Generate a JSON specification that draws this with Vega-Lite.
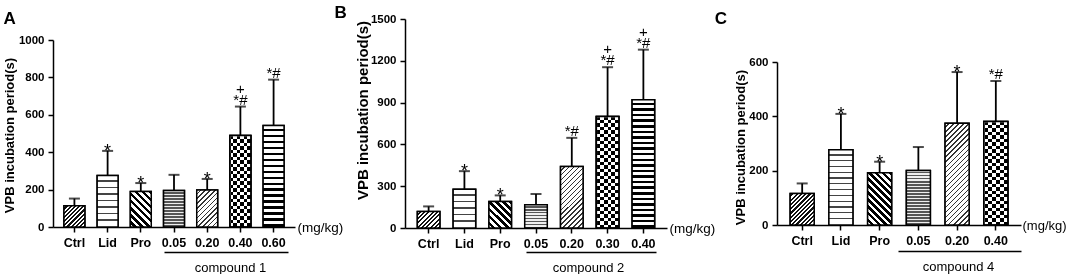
{
  "$schema": "https://vega.github.io/schema/vega-lite/v6.json",
  "padding": {"left": 3, "top": 4, "right": 0, "bottom": 0},
  "bounds": "flush",
  "spacing": 110,
  "config": {
    "view": {"stroke": null},
    "font": "Liberation Sans",
    "axis": {"grid": false, "labelFont": "Liberation Sans", "titleFont": "Liberation Sans", "labelColor": "black", "titleColor": "black", "domainColor": "black", "tickColor": "black", "domainWidth": 1.5, "tickWidth": 1.5},
    "title": {"font": "Liberation Sans", "fontSize": 17, "fontWeight": "bold", "color": "black", "anchor": "start", "frame": "bounds"},
    "text": {"font": "Liberation Sans", "fill": "black"}
  },
  "datasets": {
    "A": [
      {"group": "Ctrl", "dose": "Ctrl", "mean": 113, "upper": 152, "sig": "", "plus": ""},
      {"group": "Lid", "dose": "Lid", "mean": 276, "upper": 407, "sig": "*", "plus": ""},
      {"group": "Pro", "dose": "Pro", "mean": 190, "upper": 235, "sig": "*", "plus": ""},
      {"group": "0.05", "dose": "D1", "mean": 195, "upper": 279, "sig": "", "plus": ""},
      {"group": "0.20", "dose": "D2", "mean": 198, "upper": 257, "sig": "*", "plus": ""},
      {"group": "0.40", "dose": "D3", "mean": 489, "upper": 644, "sig": "*#", "plus": "+"},
      {"group": "0.60", "dose": "D4", "mean": 543, "upper": 788, "sig": "*#", "plus": ""}
    ],
    "B": [
      {"group": "Ctrl", "dose": "Ctrl", "mean": 118, "upper": 155, "sig": "", "plus": ""},
      {"group": "Lid", "dose": "Lid", "mean": 278, "upper": 408, "sig": "*", "plus": ""},
      {"group": "Pro", "dose": "Pro", "mean": 191, "upper": 234, "sig": "*", "plus": ""},
      {"group": "0.05", "dose": "D1", "mean": 167, "upper": 244, "sig": "", "plus": ""},
      {"group": "0.20", "dose": "D2", "mean": 441, "upper": 647, "sig": "*#", "plus": ""},
      {"group": "0.30", "dose": "D3", "mean": 800, "upper": 1154, "sig": "*#", "plus": "+"},
      {"group": "0.40", "dose": "D4", "mean": 921, "upper": 1280, "sig": "*#", "plus": "+"}
    ],
    "C": [
      {"group": "Ctrl", "dose": "Ctrl", "mean": 116, "upper": 153, "sig": "", "plus": ""},
      {"group": "Lid", "dose": "Lid", "mean": 277, "upper": 409, "sig": "*", "plus": ""},
      {"group": "Pro", "dose": "Pro", "mean": 192, "upper": 233, "sig": "*", "plus": ""},
      {"group": "0.05", "dose": "D1", "mean": 201, "upper": 287, "sig": "", "plus": ""},
      {"group": "0.20", "dose": "D2", "mean": 375, "upper": 563, "sig": "*", "plus": ""},
      {"group": "0.40", "dose": "D3", "mean": 381, "upper": 530, "sig": "*#", "plus": ""}
    ]
  },
  "hconcat": [
    {
      "width": 242, "height": 209,
      "data": {"name": "A"},
      "title": {"text": "A", "offset": -9},
      "resolve": {"axis": {"x": "independent"}},
      "layer": [
        {
          "mark": {"type": "bar", "stroke": "black", "strokeWidth": 1.5},
          "encoding": {
            "x": {"field": "group", "type": "nominal", "sort": null,
              "scale": {"domain": ["Ctrl", "Lid", "Pro", "0.05", "0.20", "0.40", "0.60"], "paddingInner": 0.37, "paddingOuter": 0.33},
              "axis": {"orient": "bottom", "offset": -1, "title": "(mg/kg)", "titleX": 244, "titleY": 0, "titleAlign": "left", "titleAnchor": "start", "titleBaseline": "middle", "titleFontWeight": "normal", "titleFontSize": 13.5, "labelAngle": 0, "labelFontWeight": "bold", "labelFontSize": 12.5, "tickSize": 5, "labelPadding": 4}},
            "y": {"field": "mean", "type": "quantitative",
              "scale": {"domain": [0, 1000], "range": [208, 21], "nice": false, "zero": true},
              "axis": {"values": [0, 200, 400, 600, 800, 1000], "format": "d", "title": "VPB incubation period(s)", "titleY": 116, "titleFontSize": 13, "titleFontWeight": "bold", "titlePadding": 2, "labelFontSize": 11.5, "labelFontWeight": "bold", "tickSize": 5, "labelPadding": 4}},
            "fill": {"field": "dose", "type": "nominal", "legend": null,
              "scale": {"domain": ["Ctrl", "Lid", "Pro", "D1", "D2", "D3", "D4"], "range": ["#858585", "#e0e0e0", "#7a7a7a", "#a3a3a3", "#b8b8b8", "#4d4d4d", "#8c8c8c"]}}
          }
        },
        {
          "transform": [{"filter": "datum.dose == 'Ctrl'"}],
          "mark": {"type": "bar", "stroke": "black", "strokeWidth": 1.5,
            "fill": {"gradient": "linear", "x1": 0, "y1": 0, "x2": 0.995, "y2": 1.004, "stops": [
              {"offset": 0, "color": "#fff"}, {"offset": 0.05, "color": "#fff"}, {"offset": 0.05, "color": "#111"}, {"offset": 0.1, "color": "#111"},
              {"offset": 0.1, "color": "#fff"}, {"offset": 0.15, "color": "#fff"}, {"offset": 0.15, "color": "#111"}, {"offset": 0.2, "color": "#111"},
              {"offset": 0.2, "color": "#fff"}, {"offset": 0.25, "color": "#fff"}, {"offset": 0.25, "color": "#111"}, {"offset": 0.3, "color": "#111"},
              {"offset": 0.3, "color": "#fff"}, {"offset": 0.35, "color": "#fff"}, {"offset": 0.35, "color": "#111"}, {"offset": 0.4, "color": "#111"},
              {"offset": 0.4, "color": "#fff"}, {"offset": 0.45, "color": "#fff"}, {"offset": 0.45, "color": "#111"}, {"offset": 0.5, "color": "#111"},
              {"offset": 0.5, "color": "#fff"}, {"offset": 0.55, "color": "#fff"}, {"offset": 0.55, "color": "#111"}, {"offset": 0.6, "color": "#111"},
              {"offset": 0.6, "color": "#fff"}, {"offset": 0.65, "color": "#fff"}, {"offset": 0.65, "color": "#111"}, {"offset": 0.7, "color": "#111"},
              {"offset": 0.7, "color": "#fff"}, {"offset": 0.75, "color": "#fff"}, {"offset": 0.75, "color": "#111"}, {"offset": 0.8, "color": "#111"},
              {"offset": 0.8, "color": "#fff"}, {"offset": 0.85, "color": "#fff"}, {"offset": 0.85, "color": "#111"}, {"offset": 0.9, "color": "#111"},
              {"offset": 0.9, "color": "#fff"}, {"offset": 0.95, "color": "#fff"}, {"offset": 0.95, "color": "#111"}, {"offset": 1, "color": "#111"}]}},
          "encoding": {
            "x": {"field": "group", "type": "nominal", "sort": null, "axis": null},
            "y": {"field": "mean", "type": "quantitative"}
          }
        },
        {
          "transform": [{"filter": "datum.dose == 'Lid'"}],
          "mark": {"type": "bar", "stroke": "black", "strokeWidth": 1.5,
            "fill": {"gradient": "linear", "x1": 0, "y1": 0, "x2": 0, "y2": 1, "stops": [
              {"offset": 0, "color": "white"}, {"offset": 0.0975, "color": "white"}, {"offset": 0.0975, "color": "#444"}, {"offset": 0.125, "color": "#444"},
              {"offset": 0.125, "color": "white"}, {"offset": 0.2225, "color": "white"}, {"offset": 0.2225, "color": "#444"}, {"offset": 0.25, "color": "#444"},
              {"offset": 0.25, "color": "white"}, {"offset": 0.3475, "color": "white"}, {"offset": 0.3475, "color": "#444"}, {"offset": 0.375, "color": "#444"},
              {"offset": 0.375, "color": "white"}, {"offset": 0.4725, "color": "white"}, {"offset": 0.4725, "color": "#444"}, {"offset": 0.5, "color": "#444"},
              {"offset": 0.5, "color": "white"}, {"offset": 0.5975, "color": "white"}, {"offset": 0.5975, "color": "#444"}, {"offset": 0.625, "color": "#444"},
              {"offset": 0.625, "color": "white"}, {"offset": 0.7225, "color": "white"}, {"offset": 0.7225, "color": "#444"}, {"offset": 0.75, "color": "#444"},
              {"offset": 0.75, "color": "white"}, {"offset": 0.8475, "color": "white"}, {"offset": 0.8475, "color": "#444"}, {"offset": 0.875, "color": "#444"},
              {"offset": 0.875, "color": "white"}, {"offset": 1, "color": "white"}]}},
          "encoding": {
            "x": {"field": "group", "type": "nominal", "sort": null, "axis": null},
            "y": {"field": "mean", "type": "quantitative"}
          }
        },
        {
          "transform": [{"filter": "datum.dose == 'Pro'"}],
          "mark": {"type": "bar", "stroke": "black", "strokeWidth": 1.5,
            "fill": {"gradient": "linear", "x1": 0, "y1": 1, "x2": 0.695, "y2": -0.18, "stops": [
              {"offset": 0, "color": "white"}, {"offset": 0.0625, "color": "white"}, {"offset": 0.0625, "color": "black"}, {"offset": 0.125, "color": "black"},
              {"offset": 0.125, "color": "white"}, {"offset": 0.1875, "color": "white"}, {"offset": 0.1875, "color": "black"}, {"offset": 0.25, "color": "black"},
              {"offset": 0.25, "color": "white"}, {"offset": 0.3125, "color": "white"}, {"offset": 0.3125, "color": "black"}, {"offset": 0.375, "color": "black"},
              {"offset": 0.375, "color": "white"}, {"offset": 0.4375, "color": "white"}, {"offset": 0.4375, "color": "black"}, {"offset": 0.5, "color": "black"},
              {"offset": 0.5, "color": "white"}, {"offset": 0.5625, "color": "white"}, {"offset": 0.5625, "color": "black"}, {"offset": 0.625, "color": "black"},
              {"offset": 0.625, "color": "white"}, {"offset": 0.6875, "color": "white"}, {"offset": 0.6875, "color": "black"}, {"offset": 0.75, "color": "black"},
              {"offset": 0.75, "color": "white"}, {"offset": 0.8125, "color": "white"}, {"offset": 0.8125, "color": "black"}, {"offset": 0.875, "color": "black"},
              {"offset": 0.875, "color": "white"}, {"offset": 0.9375, "color": "white"}, {"offset": 0.9375, "color": "black"}, {"offset": 1, "color": "black"}]}},
          "encoding": {
            "x": {"field": "group", "type": "nominal", "sort": null, "axis": null},
            "y": {"field": "mean", "type": "quantitative"}
          }
        },
        {
          "transform": [{"filter": "datum.dose == 'D1'"}],
          "mark": {"type": "bar", "stroke": "black", "strokeWidth": 1.5,
            "fill": {"gradient": "linear", "x1": 0, "y1": 0, "x2": 0, "y2": 1, "stops": [
              {"offset": 0, "color": "#eee"}, {"offset": 0.0417, "color": "#eee"}, {"offset": 0.0417, "color": "#555"}, {"offset": 0.0833, "color": "#555"},
              {"offset": 0.0833, "color": "#eee"}, {"offset": 0.125, "color": "#eee"}, {"offset": 0.125, "color": "#555"}, {"offset": 0.1667, "color": "#555"},
              {"offset": 0.1667, "color": "#eee"}, {"offset": 0.2083, "color": "#eee"}, {"offset": 0.2083, "color": "#555"}, {"offset": 0.25, "color": "#555"},
              {"offset": 0.25, "color": "#eee"}, {"offset": 0.2917, "color": "#eee"}, {"offset": 0.2917, "color": "#555"}, {"offset": 0.3333, "color": "#555"},
              {"offset": 0.3333, "color": "#eee"}, {"offset": 0.375, "color": "#eee"}, {"offset": 0.375, "color": "#555"}, {"offset": 0.4167, "color": "#555"},
              {"offset": 0.4167, "color": "#eee"}, {"offset": 0.4583, "color": "#eee"}, {"offset": 0.4583, "color": "#555"}, {"offset": 0.5, "color": "#555"},
              {"offset": 0.5, "color": "#eee"}, {"offset": 0.5417, "color": "#eee"}, {"offset": 0.5417, "color": "#555"}, {"offset": 0.5833, "color": "#555"},
              {"offset": 0.5833, "color": "#eee"}, {"offset": 0.625, "color": "#eee"}, {"offset": 0.625, "color": "#555"}, {"offset": 0.6667, "color": "#555"},
              {"offset": 0.6667, "color": "#eee"}, {"offset": 0.7083, "color": "#eee"}, {"offset": 0.7083, "color": "#555"}, {"offset": 0.75, "color": "#555"},
              {"offset": 0.75, "color": "#eee"}, {"offset": 0.7917, "color": "#eee"}, {"offset": 0.7917, "color": "#555"}, {"offset": 0.8333, "color": "#555"},
              {"offset": 0.8333, "color": "#eee"}, {"offset": 0.875, "color": "#eee"}, {"offset": 0.875, "color": "#555"}, {"offset": 0.9167, "color": "#555"},
              {"offset": 0.9167, "color": "#eee"}, {"offset": 0.9583, "color": "#eee"}, {"offset": 0.9583, "color": "#555"}, {"offset": 1, "color": "#555"}]}},
          "encoding": {
            "x": {"field": "group", "type": "nominal", "sort": null, "axis": null},
            "y": {"field": "mean", "type": "quantitative"}
          }
        },
        {
          "transform": [{"filter": "datum.dose == 'D2'"}],
          "mark": {"type": "bar", "stroke": "black", "strokeWidth": 1.5,
            "fill": {"gradient": "linear", "x1": 0, "y1": 0, "x2": 0.67, "y2": 1.186, "stops": [
              {"offset": 0, "color": "white"}, {"offset": 0.0583, "color": "white"}, {"offset": 0.0583, "color": "#333"}, {"offset": 0.0833, "color": "#333"},
              {"offset": 0.0833, "color": "white"}, {"offset": 0.1417, "color": "white"}, {"offset": 0.1417, "color": "#333"}, {"offset": 0.1667, "color": "#333"},
              {"offset": 0.1667, "color": "white"}, {"offset": 0.225, "color": "white"}, {"offset": 0.225, "color": "#333"}, {"offset": 0.25, "color": "#333"},
              {"offset": 0.25, "color": "white"}, {"offset": 0.3083, "color": "white"}, {"offset": 0.3083, "color": "#333"}, {"offset": 0.3333, "color": "#333"},
              {"offset": 0.3333, "color": "white"}, {"offset": 0.3917, "color": "white"}, {"offset": 0.3917, "color": "#333"}, {"offset": 0.4167, "color": "#333"},
              {"offset": 0.4167, "color": "white"}, {"offset": 0.475, "color": "white"}, {"offset": 0.475, "color": "#333"}, {"offset": 0.5, "color": "#333"},
              {"offset": 0.5, "color": "white"}, {"offset": 0.5583, "color": "white"}, {"offset": 0.5583, "color": "#333"}, {"offset": 0.5833, "color": "#333"},
              {"offset": 0.5833, "color": "white"}, {"offset": 0.6417, "color": "white"}, {"offset": 0.6417, "color": "#333"}, {"offset": 0.6667, "color": "#333"},
              {"offset": 0.6667, "color": "white"}, {"offset": 0.725, "color": "white"}, {"offset": 0.725, "color": "#333"}, {"offset": 0.75, "color": "#333"},
              {"offset": 0.75, "color": "white"}, {"offset": 0.8083, "color": "white"}, {"offset": 0.8083, "color": "#333"}, {"offset": 0.8333, "color": "#333"},
              {"offset": 0.8333, "color": "white"}, {"offset": 0.8917, "color": "white"}, {"offset": 0.8917, "color": "#333"}, {"offset": 0.9167, "color": "#333"},
              {"offset": 0.9167, "color": "white"}, {"offset": 0.975, "color": "white"}, {"offset": 0.975, "color": "#333"}, {"offset": 1, "color": "#333"}]}},
          "encoding": {
            "x": {"field": "group", "type": "nominal", "sort": null, "axis": null},
            "y": {"field": "mean", "type": "quantitative"}
          }
        },
        {
          "transform": [{"filter": "datum.dose == 'D3'"}],
          "mark": {"type": "bar", "stroke": "black", "strokeWidth": 1.5,
            "fill": {"gradient": "linear", "x1": 0, "y1": 0, "x2": 1, "y2": 0, "stops": [
              {"offset": 0, "color": "#fff"}, {"offset": 0.1667, "color": "#fff"}, {"offset": 0.1667, "color": "#000"}, {"offset": 0.3333, "color": "#000"},
              {"offset": 0.3333, "color": "#fff"}, {"offset": 0.5, "color": "#fff"}, {"offset": 0.5, "color": "#000"}, {"offset": 0.6667, "color": "#000"},
              {"offset": 0.6667, "color": "#fff"}, {"offset": 0.8333, "color": "#fff"}, {"offset": 0.8333, "color": "#000"}, {"offset": 1, "color": "#000"}]}},
          "encoding": {
            "x": {"field": "group", "type": "nominal", "sort": null, "axis": null},
            "y": {"field": "mean", "type": "quantitative"}
          }
        },
        {
          "transform": [{"filter": "datum.dose == 'D3'"}],
          "mark": {"type": "bar", "strokeWidth": 0, "blend": "difference",
            "fill": {"gradient": "linear", "x1": 0, "y1": 0, "x2": 0, "y2": 1, "stops": [
              {"offset": 0, "color": "#fff"}, {"offset": 0.0385, "color": "#fff"}, {"offset": 0.0385, "color": "rgba(0,0,0,0)"}, {"offset": 0.0769, "color": "rgba(0,0,0,0)"},
              {"offset": 0.0769, "color": "#fff"}, {"offset": 0.1154, "color": "#fff"}, {"offset": 0.1154, "color": "rgba(0,0,0,0)"}, {"offset": 0.1538, "color": "rgba(0,0,0,0)"},
              {"offset": 0.1538, "color": "#fff"}, {"offset": 0.1923, "color": "#fff"}, {"offset": 0.1923, "color": "rgba(0,0,0,0)"}, {"offset": 0.2308, "color": "rgba(0,0,0,0)"},
              {"offset": 0.2308, "color": "#fff"}, {"offset": 0.2692, "color": "#fff"}, {"offset": 0.2692, "color": "rgba(0,0,0,0)"}, {"offset": 0.3077, "color": "rgba(0,0,0,0)"},
              {"offset": 0.3077, "color": "#fff"}, {"offset": 0.3462, "color": "#fff"}, {"offset": 0.3462, "color": "rgba(0,0,0,0)"}, {"offset": 0.3846, "color": "rgba(0,0,0,0)"},
              {"offset": 0.3846, "color": "#fff"}, {"offset": 0.4231, "color": "#fff"}, {"offset": 0.4231, "color": "rgba(0,0,0,0)"}, {"offset": 0.4615, "color": "rgba(0,0,0,0)"},
              {"offset": 0.4615, "color": "#fff"}, {"offset": 0.5, "color": "#fff"}, {"offset": 0.5, "color": "rgba(0,0,0,0)"}, {"offset": 0.5385, "color": "rgba(0,0,0,0)"},
              {"offset": 0.5385, "color": "#fff"}, {"offset": 0.5769, "color": "#fff"}, {"offset": 0.5769, "color": "rgba(0,0,0,0)"}, {"offset": 0.6154, "color": "rgba(0,0,0,0)"},
              {"offset": 0.6154, "color": "#fff"}, {"offset": 0.6538, "color": "#fff"}, {"offset": 0.6538, "color": "rgba(0,0,0,0)"}, {"offset": 0.6923, "color": "rgba(0,0,0,0)"},
              {"offset": 0.6923, "color": "#fff"}, {"offset": 0.7308, "color": "#fff"}, {"offset": 0.7308, "color": "rgba(0,0,0,0)"}, {"offset": 0.7692, "color": "rgba(0,0,0,0)"},
              {"offset": 0.7692, "color": "#fff"}, {"offset": 0.8077, "color": "#fff"}, {"offset": 0.8077, "color": "rgba(0,0,0,0)"}, {"offset": 0.8462, "color": "rgba(0,0,0,0)"},
              {"offset": 0.8462, "color": "#fff"}, {"offset": 0.8846, "color": "#fff"}, {"offset": 0.8846, "color": "rgba(0,0,0,0)"}, {"offset": 0.9231, "color": "rgba(0,0,0,0)"},
              {"offset": 0.9231, "color": "#fff"}, {"offset": 0.9615, "color": "#fff"}, {"offset": 0.9615, "color": "rgba(0,0,0,0)"}, {"offset": 1, "color": "rgba(0,0,0,0)"}]}},
          "encoding": {
            "x": {"field": "group", "type": "nominal", "sort": null, "axis": null},
            "y": {"field": "mean", "type": "quantitative"}
          }
        },
        {
          "transform": [{"filter": "datum.dose == 'D3'"}],
          "mark": {"type": "bar", "fill": "transparent", "stroke": "black", "strokeWidth": 1.5},
          "encoding": {
            "x": {"field": "group", "type": "nominal", "sort": null, "axis": null},
            "y": {"field": "mean", "type": "quantitative"}
          }
        },
        {
          "transform": [{"filter": "datum.dose == 'D4'"}],
          "mark": {"type": "bar", "stroke": "black", "strokeWidth": 1.5,
            "fill": {"gradient": "linear", "x1": 0, "y1": 0, "x2": 0, "y2": 1, "stops": [
              {"offset": 0, "color": "white"}, {"offset": 0.0324, "color": "white"}, {"offset": 0.0324, "color": "black"}, {"offset": 0.0588, "color": "black"},
              {"offset": 0.0588, "color": "white"}, {"offset": 0.0912, "color": "white"}, {"offset": 0.0912, "color": "black"}, {"offset": 0.1176, "color": "black"},
              {"offset": 0.1176, "color": "white"}, {"offset": 0.15, "color": "white"}, {"offset": 0.15, "color": "black"}, {"offset": 0.1765, "color": "black"},
              {"offset": 0.1765, "color": "white"}, {"offset": 0.2088, "color": "white"}, {"offset": 0.2088, "color": "black"}, {"offset": 0.2353, "color": "black"},
              {"offset": 0.2353, "color": "white"}, {"offset": 0.2676, "color": "white"}, {"offset": 0.2676, "color": "black"}, {"offset": 0.2941, "color": "black"},
              {"offset": 0.2941, "color": "white"}, {"offset": 0.3265, "color": "white"}, {"offset": 0.3265, "color": "black"}, {"offset": 0.3529, "color": "black"},
              {"offset": 0.3529, "color": "white"}, {"offset": 0.3853, "color": "white"}, {"offset": 0.3853, "color": "black"}, {"offset": 0.4118, "color": "black"},
              {"offset": 0.4118, "color": "white"}, {"offset": 0.4441, "color": "white"}, {"offset": 0.4441, "color": "black"}, {"offset": 0.4706, "color": "black"},
              {"offset": 0.4706, "color": "white"}, {"offset": 0.5029, "color": "white"}, {"offset": 0.5029, "color": "black"}, {"offset": 0.5294, "color": "black"},
              {"offset": 0.5294, "color": "white"}, {"offset": 0.5618, "color": "white"}, {"offset": 0.5618, "color": "black"}, {"offset": 0.5882, "color": "black"},
              {"offset": 0.5882, "color": "white"}, {"offset": 0.6206, "color": "white"}, {"offset": 0.6206, "color": "black"}, {"offset": 0.6471, "color": "black"},
              {"offset": 0.6471, "color": "white"}, {"offset": 0.6794, "color": "white"}, {"offset": 0.6794, "color": "black"}, {"offset": 0.7059, "color": "black"},
              {"offset": 0.7059, "color": "white"}, {"offset": 0.7382, "color": "white"}, {"offset": 0.7382, "color": "black"}, {"offset": 0.7647, "color": "black"},
              {"offset": 0.7647, "color": "white"}, {"offset": 0.7971, "color": "white"}, {"offset": 0.7971, "color": "black"}, {"offset": 0.8235, "color": "black"},
              {"offset": 0.8235, "color": "white"}, {"offset": 0.8559, "color": "white"}, {"offset": 0.8559, "color": "black"}, {"offset": 0.8824, "color": "black"},
              {"offset": 0.8824, "color": "white"}, {"offset": 0.9147, "color": "white"}, {"offset": 0.9147, "color": "black"}, {"offset": 0.9412, "color": "black"},
              {"offset": 0.9412, "color": "white"}, {"offset": 0.9735, "color": "white"}, {"offset": 0.9735, "color": "black"}, {"offset": 1, "color": "black"}]}},
          "encoding": {
            "x": {"field": "group", "type": "nominal", "sort": null, "axis": null},
            "y": {"field": "mean", "type": "quantitative"}
          }
        },
        {
          "mark": {"type": "rule", "strokeWidth": 1.8, "color": "black"},
          "encoding": {
            "x": {"field": "group", "type": "nominal", "sort": null,
              "axis": {"orient": "bottom", "offset": 24, "labels": false, "ticks": false, "domain": true, "domainDash": [0, 111, 124, 1000], "title": "compound 1", "titleX": 177, "titleY": 15, "titleAlign": "center", "titleBaseline": "middle", "titleFontWeight": "normal", "titleFontSize": 13}},
            "y": {"field": "mean", "type": "quantitative"},
            "y2": {"field": "upper"}
          }
        },
        {
          "mark": {"type": "tick", "color": "black", "thickness": 2, "size": 11},
          "encoding": {
            "x": {"field": "group", "type": "nominal", "sort": null, "axis": null},
            "y": {"field": "upper", "type": "quantitative"}
          }
        },
        {
          "transform": [{"filter": "datum.sig == '*'"}],
          "mark": {"type": "text", "font": "Liberation Sans", "fontSize": 18, "baseline": "alphabetic", "dy": 6, "fill": "black"},
          "encoding": {
            "x": {"field": "group", "type": "nominal", "sort": null, "axis": null},
            "y": {"field": "upper", "type": "quantitative"},
            "text": {"field": "sig"}
          }
        },
        {
          "transform": [{"filter": "datum.sig == '*#'"}],
          "mark": {"type": "text", "font": "Liberation Sans", "fontSize": 15, "baseline": "alphabetic", "dy": -2, "fill": "black"},
          "encoding": {
            "x": {"field": "group", "type": "nominal", "sort": null, "axis": null},
            "y": {"field": "upper", "type": "quantitative"},
            "text": {"field": "sig"}
          }
        },
        {
          "transform": [{"filter": "datum.plus == '+'"}],
          "mark": {"type": "text", "font": "Liberation Sans", "fontSize": 15, "baseline": "alphabetic", "dy": -13, "fill": "black"},
          "encoding": {
            "x": {"field": "group", "type": "nominal", "sort": null, "axis": null},
            "y": {"field": "upper", "type": "quantitative"},
            "text": {"field": "plus"}
          }
        }
      ]
    },
    {
      "width": 262, "height": 209,
      "data": {"name": "B"},
      "title": {"text": "B", "offset": -9, "dx": -21},
      "resolve": {"axis": {"x": "independent"}},
      "layer": [
        {
          "mark": {"type": "bar", "stroke": "black", "strokeWidth": 1.5},
          "encoding": {
            "x": {"field": "group", "type": "nominal", "sort": null,
              "scale": {"domain": ["Ctrl", "Lid", "Pro", "0.05", "0.20", "0.30", "0.40"], "paddingInner": 0.37, "paddingOuter": 0.345},
              "axis": {"orient": "bottom", "title": "(mg/kg)", "titleX": 264, "titleY": 0, "titleAlign": "left", "titleAnchor": "start", "titleBaseline": "middle", "titleFontWeight": "normal", "titleFontSize": 13.5, "labelAngle": 0, "labelFontWeight": "bold", "labelFontSize": 12.5, "tickSize": 5, "labelPadding": 4}},
            "y": {"field": "mean", "type": "quantitative",
              "scale": {"domain": [0, 1500], "range": [209, 0], "nice": false, "zero": true},
              "axis": {"values": [0, 300, 600, 900, 1200, 1500], "format": "d", "title": "VPB incubation period(s)", "titleY": 91, "titleFontSize": 15, "titleFontWeight": "bold", "titlePadding": 0, "labelFontSize": 11.5, "labelFontWeight": "bold", "tickSize": 5, "labelPadding": 4}},
            "fill": {"field": "dose", "type": "nominal", "legend": null,
              "scale": {"domain": ["Ctrl", "Lid", "Pro", "D1", "D2", "D3", "D4"], "range": ["#858585", "#e0e0e0", "#7a7a7a", "#a3a3a3", "#b8b8b8", "#4d4d4d", "#8c8c8c"]}}
          }
        },
        {
          "transform": [{"filter": "datum.dose == 'Ctrl'"}],
          "mark": {"type": "bar", "stroke": "black", "strokeWidth": 1.5,
            "fill": {"gradient": "linear", "x1": 0, "y1": 0, "x2": 1.129, "y2": 0.823, "stops": [
              {"offset": 0, "color": "#fff"}, {"offset": 0.0556, "color": "#fff"}, {"offset": 0.0556, "color": "#111"}, {"offset": 0.1111, "color": "#111"},
              {"offset": 0.1111, "color": "#fff"}, {"offset": 0.1667, "color": "#fff"}, {"offset": 0.1667, "color": "#111"}, {"offset": 0.2222, "color": "#111"},
              {"offset": 0.2222, "color": "#fff"}, {"offset": 0.2778, "color": "#fff"}, {"offset": 0.2778, "color": "#111"}, {"offset": 0.3333, "color": "#111"},
              {"offset": 0.3333, "color": "#fff"}, {"offset": 0.3889, "color": "#fff"}, {"offset": 0.3889, "color": "#111"}, {"offset": 0.4444, "color": "#111"},
              {"offset": 0.4444, "color": "#fff"}, {"offset": 0.5, "color": "#fff"}, {"offset": 0.5, "color": "#111"}, {"offset": 0.5556, "color": "#111"},
              {"offset": 0.5556, "color": "#fff"}, {"offset": 0.6111, "color": "#fff"}, {"offset": 0.6111, "color": "#111"}, {"offset": 0.6667, "color": "#111"},
              {"offset": 0.6667, "color": "#fff"}, {"offset": 0.7222, "color": "#fff"}, {"offset": 0.7222, "color": "#111"}, {"offset": 0.7778, "color": "#111"},
              {"offset": 0.7778, "color": "#fff"}, {"offset": 0.8333, "color": "#fff"}, {"offset": 0.8333, "color": "#111"}, {"offset": 0.8889, "color": "#111"},
              {"offset": 0.8889, "color": "#fff"}, {"offset": 0.9444, "color": "#fff"}, {"offset": 0.9444, "color": "#111"}, {"offset": 1, "color": "#111"}]}},
          "encoding": {
            "x": {"field": "group", "type": "nominal", "sort": null, "axis": null},
            "y": {"field": "mean", "type": "quantitative"}
          }
        },
        {
          "transform": [{"filter": "datum.dose == 'Lid'"}],
          "mark": {"type": "bar", "stroke": "black", "strokeWidth": 1.5,
            "fill": {"gradient": "linear", "x1": 0, "y1": 0, "x2": 0, "y2": 1, "stops": [
              {"offset": 0, "color": "white"}, {"offset": 0.13, "color": "white"}, {"offset": 0.13, "color": "#444"}, {"offset": 0.1667, "color": "#444"},
              {"offset": 0.1667, "color": "white"}, {"offset": 0.2967, "color": "white"}, {"offset": 0.2967, "color": "#444"}, {"offset": 0.3333, "color": "#444"},
              {"offset": 0.3333, "color": "white"}, {"offset": 0.4633, "color": "white"}, {"offset": 0.4633, "color": "#444"}, {"offset": 0.5, "color": "#444"},
              {"offset": 0.5, "color": "white"}, {"offset": 0.63, "color": "white"}, {"offset": 0.63, "color": "#444"}, {"offset": 0.6667, "color": "#444"},
              {"offset": 0.6667, "color": "white"}, {"offset": 0.7967, "color": "white"}, {"offset": 0.7967, "color": "#444"}, {"offset": 0.8333, "color": "#444"},
              {"offset": 0.8333, "color": "white"}, {"offset": 1, "color": "white"}]}},
          "encoding": {
            "x": {"field": "group", "type": "nominal", "sort": null, "axis": null},
            "y": {"field": "mean", "type": "quantitative"}
          }
        },
        {
          "transform": [{"filter": "datum.dose == 'Pro'"}],
          "mark": {"type": "bar", "stroke": "black", "strokeWidth": 1.5,
            "fill": {"gradient": "linear", "x1": 0, "y1": 1, "x2": 0.91, "y2": -0.076, "stops": [
              {"offset": 0, "color": "white"}, {"offset": 0.0714, "color": "white"}, {"offset": 0.0714, "color": "black"}, {"offset": 0.1429, "color": "black"},
              {"offset": 0.1429, "color": "white"}, {"offset": 0.2143, "color": "white"}, {"offset": 0.2143, "color": "black"}, {"offset": 0.2857, "color": "black"},
              {"offset": 0.2857, "color": "white"}, {"offset": 0.3571, "color": "white"}, {"offset": 0.3571, "color": "black"}, {"offset": 0.4286, "color": "black"},
              {"offset": 0.4286, "color": "white"}, {"offset": 0.5, "color": "white"}, {"offset": 0.5, "color": "black"}, {"offset": 0.5714, "color": "black"},
              {"offset": 0.5714, "color": "white"}, {"offset": 0.6429, "color": "white"}, {"offset": 0.6429, "color": "black"}, {"offset": 0.7143, "color": "black"},
              {"offset": 0.7143, "color": "white"}, {"offset": 0.7857, "color": "white"}, {"offset": 0.7857, "color": "black"}, {"offset": 0.8571, "color": "black"},
              {"offset": 0.8571, "color": "white"}, {"offset": 0.9286, "color": "white"}, {"offset": 0.9286, "color": "black"}, {"offset": 1, "color": "black"}]}},
          "encoding": {
            "x": {"field": "group", "type": "nominal", "sort": null, "axis": null},
            "y": {"field": "mean", "type": "quantitative"}
          }
        },
        {
          "transform": [{"filter": "datum.dose == 'D1'"}],
          "mark": {"type": "bar", "stroke": "black", "strokeWidth": 1.5,
            "fill": {"gradient": "linear", "x1": 0, "y1": 0, "x2": 0, "y2": 1, "stops": [
              {"offset": 0, "color": "#eee"}, {"offset": 0.0625, "color": "#eee"}, {"offset": 0.0625, "color": "#555"}, {"offset": 0.125, "color": "#555"},
              {"offset": 0.125, "color": "#eee"}, {"offset": 0.1875, "color": "#eee"}, {"offset": 0.1875, "color": "#555"}, {"offset": 0.25, "color": "#555"},
              {"offset": 0.25, "color": "#eee"}, {"offset": 0.3125, "color": "#eee"}, {"offset": 0.3125, "color": "#555"}, {"offset": 0.375, "color": "#555"},
              {"offset": 0.375, "color": "#eee"}, {"offset": 0.4375, "color": "#eee"}, {"offset": 0.4375, "color": "#555"}, {"offset": 0.5, "color": "#555"},
              {"offset": 0.5, "color": "#eee"}, {"offset": 0.5625, "color": "#eee"}, {"offset": 0.5625, "color": "#555"}, {"offset": 0.625, "color": "#555"},
              {"offset": 0.625, "color": "#eee"}, {"offset": 0.6875, "color": "#eee"}, {"offset": 0.6875, "color": "#555"}, {"offset": 0.75, "color": "#555"},
              {"offset": 0.75, "color": "#eee"}, {"offset": 0.8125, "color": "#eee"}, {"offset": 0.8125, "color": "#555"}, {"offset": 0.875, "color": "#555"},
              {"offset": 0.875, "color": "#eee"}, {"offset": 0.9375, "color": "#eee"}, {"offset": 0.9375, "color": "#555"}, {"offset": 1, "color": "#555"}]}},
          "encoding": {
            "x": {"field": "group", "type": "nominal", "sort": null, "axis": null},
            "y": {"field": "mean", "type": "quantitative"}
          }
        },
        {
          "transform": [{"filter": "datum.dose == 'D2'"}],
          "mark": {"type": "bar", "stroke": "black", "strokeWidth": 1.5,
            "fill": {"gradient": "linear", "x1": 0, "y1": 0, "x2": 0.441, "y2": 1.205, "stops": [
              {"offset": 0, "color": "white"}, {"offset": 0.0412, "color": "white"}, {"offset": 0.0412, "color": "#333"}, {"offset": 0.0588, "color": "#333"},
              {"offset": 0.0588, "color": "white"}, {"offset": 0.1, "color": "white"}, {"offset": 0.1, "color": "#333"}, {"offset": 0.1176, "color": "#333"},
              {"offset": 0.1176, "color": "white"}, {"offset": 0.1588, "color": "white"}, {"offset": 0.1588, "color": "#333"}, {"offset": 0.1765, "color": "#333"},
              {"offset": 0.1765, "color": "white"}, {"offset": 0.2176, "color": "white"}, {"offset": 0.2176, "color": "#333"}, {"offset": 0.2353, "color": "#333"},
              {"offset": 0.2353, "color": "white"}, {"offset": 0.2765, "color": "white"}, {"offset": 0.2765, "color": "#333"}, {"offset": 0.2941, "color": "#333"},
              {"offset": 0.2941, "color": "white"}, {"offset": 0.3353, "color": "white"}, {"offset": 0.3353, "color": "#333"}, {"offset": 0.3529, "color": "#333"},
              {"offset": 0.3529, "color": "white"}, {"offset": 0.3941, "color": "white"}, {"offset": 0.3941, "color": "#333"}, {"offset": 0.4118, "color": "#333"},
              {"offset": 0.4118, "color": "white"}, {"offset": 0.4529, "color": "white"}, {"offset": 0.4529, "color": "#333"}, {"offset": 0.4706, "color": "#333"},
              {"offset": 0.4706, "color": "white"}, {"offset": 0.5118, "color": "white"}, {"offset": 0.5118, "color": "#333"}, {"offset": 0.5294, "color": "#333"},
              {"offset": 0.5294, "color": "white"}, {"offset": 0.5706, "color": "white"}, {"offset": 0.5706, "color": "#333"}, {"offset": 0.5882, "color": "#333"},
              {"offset": 0.5882, "color": "white"}, {"offset": 0.6294, "color": "white"}, {"offset": 0.6294, "color": "#333"}, {"offset": 0.6471, "color": "#333"},
              {"offset": 0.6471, "color": "white"}, {"offset": 0.6882, "color": "white"}, {"offset": 0.6882, "color": "#333"}, {"offset": 0.7059, "color": "#333"},
              {"offset": 0.7059, "color": "white"}, {"offset": 0.7471, "color": "white"}, {"offset": 0.7471, "color": "#333"}, {"offset": 0.7647, "color": "#333"},
              {"offset": 0.7647, "color": "white"}, {"offset": 0.8059, "color": "white"}, {"offset": 0.8059, "color": "#333"}, {"offset": 0.8235, "color": "#333"},
              {"offset": 0.8235, "color": "white"}, {"offset": 0.8647, "color": "white"}, {"offset": 0.8647, "color": "#333"}, {"offset": 0.8824, "color": "#333"},
              {"offset": 0.8824, "color": "white"}, {"offset": 0.9235, "color": "white"}, {"offset": 0.9235, "color": "#333"}, {"offset": 0.9412, "color": "#333"},
              {"offset": 0.9412, "color": "white"}, {"offset": 0.9824, "color": "white"}, {"offset": 0.9824, "color": "#333"}, {"offset": 1, "color": "#333"}]}},
          "encoding": {
            "x": {"field": "group", "type": "nominal", "sort": null, "axis": null},
            "y": {"field": "mean", "type": "quantitative"}
          }
        },
        {
          "transform": [{"filter": "datum.dose == 'D3'"}],
          "mark": {"type": "bar", "stroke": "black", "strokeWidth": 1.5,
            "fill": {"gradient": "linear", "x1": 0, "y1": 0, "x2": 1, "y2": 0, "stops": [
              {"offset": 0, "color": "#fff"}, {"offset": 0.1667, "color": "#fff"}, {"offset": 0.1667, "color": "#000"}, {"offset": 0.3333, "color": "#000"},
              {"offset": 0.3333, "color": "#fff"}, {"offset": 0.5, "color": "#fff"}, {"offset": 0.5, "color": "#000"}, {"offset": 0.6667, "color": "#000"},
              {"offset": 0.6667, "color": "#fff"}, {"offset": 0.8333, "color": "#fff"}, {"offset": 0.8333, "color": "#000"}, {"offset": 1, "color": "#000"}]}},
          "encoding": {
            "x": {"field": "group", "type": "nominal", "sort": null, "axis": null},
            "y": {"field": "mean", "type": "quantitative"}
          }
        },
        {
          "transform": [{"filter": "datum.dose == 'D3'"}],
          "mark": {"type": "bar", "strokeWidth": 0, "blend": "difference",
            "fill": {"gradient": "linear", "x1": 0, "y1": 0, "x2": 0, "y2": 1, "stops": [
              {"offset": 0, "color": "#fff"}, {"offset": 0.03125, "color": "#fff"}, {"offset": 0.03125, "color": "rgba(0,0,0,0)"}, {"offset": 0.0625, "color": "rgba(0,0,0,0)"},
              {"offset": 0.0625, "color": "#fff"}, {"offset": 0.09375, "color": "#fff"}, {"offset": 0.09375, "color": "rgba(0,0,0,0)"}, {"offset": 0.125, "color": "rgba(0,0,0,0)"},
              {"offset": 0.125, "color": "#fff"}, {"offset": 0.15625, "color": "#fff"}, {"offset": 0.15625, "color": "rgba(0,0,0,0)"}, {"offset": 0.1875, "color": "rgba(0,0,0,0)"},
              {"offset": 0.1875, "color": "#fff"}, {"offset": 0.21875, "color": "#fff"}, {"offset": 0.21875, "color": "rgba(0,0,0,0)"}, {"offset": 0.25, "color": "rgba(0,0,0,0)"},
              {"offset": 0.25, "color": "#fff"}, {"offset": 0.28125, "color": "#fff"}, {"offset": 0.28125, "color": "rgba(0,0,0,0)"}, {"offset": 0.3125, "color": "rgba(0,0,0,0)"},
              {"offset": 0.3125, "color": "#fff"}, {"offset": 0.34375, "color": "#fff"}, {"offset": 0.34375, "color": "rgba(0,0,0,0)"}, {"offset": 0.375, "color": "rgba(0,0,0,0)"},
              {"offset": 0.375, "color": "#fff"}, {"offset": 0.40625, "color": "#fff"}, {"offset": 0.40625, "color": "rgba(0,0,0,0)"}, {"offset": 0.4375, "color": "rgba(0,0,0,0)"},
              {"offset": 0.4375, "color": "#fff"}, {"offset": 0.46875, "color": "#fff"}, {"offset": 0.46875, "color": "rgba(0,0,0,0)"}, {"offset": 0.5, "color": "rgba(0,0,0,0)"},
              {"offset": 0.5, "color": "#fff"}, {"offset": 0.53125, "color": "#fff"}, {"offset": 0.53125, "color": "rgba(0,0,0,0)"}, {"offset": 0.5625, "color": "rgba(0,0,0,0)"},
              {"offset": 0.5625, "color": "#fff"}, {"offset": 0.59375, "color": "#fff"}, {"offset": 0.59375, "color": "rgba(0,0,0,0)"}, {"offset": 0.625, "color": "rgba(0,0,0,0)"},
              {"offset": 0.625, "color": "#fff"}, {"offset": 0.65625, "color": "#fff"}, {"offset": 0.65625, "color": "rgba(0,0,0,0)"}, {"offset": 0.6875, "color": "rgba(0,0,0,0)"},
              {"offset": 0.6875, "color": "#fff"}, {"offset": 0.71875, "color": "#fff"}, {"offset": 0.71875, "color": "rgba(0,0,0,0)"}, {"offset": 0.75, "color": "rgba(0,0,0,0)"},
              {"offset": 0.75, "color": "#fff"}, {"offset": 0.78125, "color": "#fff"}, {"offset": 0.78125, "color": "rgba(0,0,0,0)"}, {"offset": 0.8125, "color": "rgba(0,0,0,0)"},
              {"offset": 0.8125, "color": "#fff"}, {"offset": 0.84375, "color": "#fff"}, {"offset": 0.84375, "color": "rgba(0,0,0,0)"}, {"offset": 0.875, "color": "rgba(0,0,0,0)"},
              {"offset": 0.875, "color": "#fff"}, {"offset": 0.90625, "color": "#fff"}, {"offset": 0.90625, "color": "rgba(0,0,0,0)"}, {"offset": 0.9375, "color": "rgba(0,0,0,0)"},
              {"offset": 0.9375, "color": "#fff"}, {"offset": 0.96875, "color": "#fff"}, {"offset": 0.96875, "color": "rgba(0,0,0,0)"}, {"offset": 1, "color": "rgba(0,0,0,0)"}]}},
          "encoding": {
            "x": {"field": "group", "type": "nominal", "sort": null, "axis": null},
            "y": {"field": "mean", "type": "quantitative"}
          }
        },
        {
          "transform": [{"filter": "datum.dose == 'D3'"}],
          "mark": {"type": "bar", "fill": "transparent", "stroke": "black", "strokeWidth": 1.5},
          "encoding": {
            "x": {"field": "group", "type": "nominal", "sort": null, "axis": null},
            "y": {"field": "mean", "type": "quantitative"}
          }
        },
        {
          "transform": [{"filter": "datum.dose == 'D4'"}],
          "mark": {"type": "bar", "stroke": "black", "strokeWidth": 1.5,
            "fill": {"gradient": "linear", "x1": 0, "y1": 0, "x2": 0, "y2": 1, "stops": [
              {"offset": 0, "color": "white"}, {"offset": 0.0239, "color": "white"}, {"offset": 0.0239, "color": "black"}, {"offset": 0.0435, "color": "black"},
              {"offset": 0.0435, "color": "white"}, {"offset": 0.0674, "color": "white"}, {"offset": 0.0674, "color": "black"}, {"offset": 0.087, "color": "black"},
              {"offset": 0.087, "color": "white"}, {"offset": 0.1109, "color": "white"}, {"offset": 0.1109, "color": "black"}, {"offset": 0.1304, "color": "black"},
              {"offset": 0.1304, "color": "white"}, {"offset": 0.1543, "color": "white"}, {"offset": 0.1543, "color": "black"}, {"offset": 0.1739, "color": "black"},
              {"offset": 0.1739, "color": "white"}, {"offset": 0.1978, "color": "white"}, {"offset": 0.1978, "color": "black"}, {"offset": 0.2174, "color": "black"},
              {"offset": 0.2174, "color": "white"}, {"offset": 0.2413, "color": "white"}, {"offset": 0.2413, "color": "black"}, {"offset": 0.2609, "color": "black"},
              {"offset": 0.2609, "color": "white"}, {"offset": 0.2848, "color": "white"}, {"offset": 0.2848, "color": "black"}, {"offset": 0.3043, "color": "black"},
              {"offset": 0.3043, "color": "white"}, {"offset": 0.3282, "color": "white"}, {"offset": 0.3282, "color": "black"}, {"offset": 0.3478, "color": "black"},
              {"offset": 0.3478, "color": "white"}, {"offset": 0.3717, "color": "white"}, {"offset": 0.3717, "color": "black"}, {"offset": 0.3913, "color": "black"},
              {"offset": 0.3913, "color": "white"}, {"offset": 0.4152, "color": "white"}, {"offset": 0.4152, "color": "black"}, {"offset": 0.4348, "color": "black"},
              {"offset": 0.4348, "color": "white"}, {"offset": 0.4587, "color": "white"}, {"offset": 0.4587, "color": "black"}, {"offset": 0.4783, "color": "black"},
              {"offset": 0.4783, "color": "white"}, {"offset": 0.5022, "color": "white"}, {"offset": 0.5022, "color": "black"}, {"offset": 0.5217, "color": "black"},
              {"offset": 0.5217, "color": "white"}, {"offset": 0.5456, "color": "white"}, {"offset": 0.5456, "color": "black"}, {"offset": 0.5652, "color": "black"},
              {"offset": 0.5652, "color": "white"}, {"offset": 0.5891, "color": "white"}, {"offset": 0.5891, "color": "black"}, {"offset": 0.6087, "color": "black"},
              {"offset": 0.6087, "color": "white"}, {"offset": 0.6326, "color": "white"}, {"offset": 0.6326, "color": "black"}, {"offset": 0.6522, "color": "black"},
              {"offset": 0.6522, "color": "white"}, {"offset": 0.6761, "color": "white"}, {"offset": 0.6761, "color": "black"}, {"offset": 0.6957, "color": "black"},
              {"offset": 0.6957, "color": "white"}, {"offset": 0.7196, "color": "white"}, {"offset": 0.7196, "color": "black"}, {"offset": 0.7391, "color": "black"},
              {"offset": 0.7391, "color": "white"}, {"offset": 0.763, "color": "white"}, {"offset": 0.763, "color": "black"}, {"offset": 0.7826, "color": "black"},
              {"offset": 0.7826, "color": "white"}, {"offset": 0.8065, "color": "white"}, {"offset": 0.8065, "color": "black"}, {"offset": 0.8261, "color": "black"},
              {"offset": 0.8261, "color": "white"}, {"offset": 0.85, "color": "white"}, {"offset": 0.85, "color": "black"}, {"offset": 0.8696, "color": "black"},
              {"offset": 0.8696, "color": "white"}, {"offset": 0.8935, "color": "white"}, {"offset": 0.8935, "color": "black"}, {"offset": 0.913, "color": "black"},
              {"offset": 0.913, "color": "white"}, {"offset": 0.9369, "color": "white"}, {"offset": 0.9369, "color": "black"}, {"offset": 0.9565, "color": "black"},
              {"offset": 0.9565, "color": "white"}, {"offset": 0.9804, "color": "white"}, {"offset": 0.9804, "color": "black"}, {"offset": 1, "color": "black"}]}},
          "encoding": {
            "x": {"field": "group", "type": "nominal", "sort": null, "axis": null},
            "y": {"field": "mean", "type": "quantitative"}
          }
        },
        {
          "mark": {"type": "rule", "strokeWidth": 1.8, "color": "black"},
          "encoding": {
            "x": {"field": "group", "type": "nominal", "sort": null,
              "axis": {"orient": "bottom", "offset": 24, "labels": false, "ticks": false, "domain": true, "domainDash": [0, 121, 130, 1000], "title": "compound 2", "titleX": 183, "titleY": 15, "titleAlign": "center", "titleBaseline": "middle", "titleFontWeight": "normal", "titleFontSize": 13}},
            "y": {"field": "mean", "type": "quantitative"},
            "y2": {"field": "upper"}
          }
        },
        {
          "mark": {"type": "tick", "color": "black", "thickness": 2, "size": 11},
          "encoding": {
            "x": {"field": "group", "type": "nominal", "sort": null, "axis": null},
            "y": {"field": "upper", "type": "quantitative"}
          }
        },
        {
          "transform": [{"filter": "datum.sig == '*'"}],
          "mark": {"type": "text", "font": "Liberation Sans", "fontSize": 18, "baseline": "alphabetic", "dy": 6, "fill": "black"},
          "encoding": {
            "x": {"field": "group", "type": "nominal", "sort": null, "axis": null},
            "y": {"field": "upper", "type": "quantitative"},
            "text": {"field": "sig"}
          }
        },
        {
          "transform": [{"filter": "datum.sig == '*#'"}],
          "mark": {"type": "text", "font": "Liberation Sans", "fontSize": 15, "baseline": "alphabetic", "dy": -2, "fill": "black"},
          "encoding": {
            "x": {"field": "group", "type": "nominal", "sort": null, "axis": null},
            "y": {"field": "upper", "type": "quantitative"},
            "text": {"field": "sig"}
          }
        },
        {
          "transform": [{"filter": "datum.plus == '+'"}],
          "mark": {"type": "text", "font": "Liberation Sans", "fontSize": 15, "baseline": "alphabetic", "dy": -13, "fill": "black"},
          "encoding": {
            "x": {"field": "group", "type": "nominal", "sort": null, "axis": null},
            "y": {"field": "upper", "type": "quantitative"},
            "text": {"field": "plus"}
          }
        }
      ]
    },
    {
      "width": 244, "height": 209,
      "data": {"name": "C"},
      "title": {"text": "C", "offset": -9, "dx": -20},
      "resolve": {"axis": {"x": "independent"}},
      "layer": [
        {
          "mark": {"type": "bar", "stroke": "black", "strokeWidth": 1.5},
          "encoding": {
            "x": {"field": "group", "type": "nominal", "sort": null,
              "scale": {"domain": ["Ctrl", "Lid", "Pro", "0.05", "0.20", "0.40"], "paddingInner": 0.38, "paddingOuter": 0.34},
              "axis": {"orient": "bottom", "offset": -3, "title": "(mg/kg)", "titleX": 245, "titleY": 0, "titleAlign": "left", "titleAnchor": "start", "titleBaseline": "middle", "titleFontWeight": "normal", "titleFontSize": 13, "labelAngle": 0, "labelFontWeight": "bold", "labelFontSize": 12.5, "tickSize": 5, "labelPadding": 4}},
            "y": {"field": "mean", "type": "quantitative",
              "scale": {"domain": [0, 600], "range": [206, 43], "nice": false, "zero": true},
              "axis": {"values": [0, 100, 200, 300, 400, 500, 600], "format": "d", "title": "VPB incubation period(s)", "titleY": 128, "titleFontSize": 13, "titleFontWeight": "bold", "titlePadding": 1, "labelFontSize": 11.5, "labelFontWeight": "bold", "tickSize": 5, "labelPadding": 4}},
            "fill": {"field": "dose", "type": "nominal", "legend": null,
              "scale": {"domain": ["Ctrl", "Lid", "Pro", "D1", "D2", "D3", "D4"], "range": ["#858585", "#e0e0e0", "#7a7a7a", "#a3a3a3", "#b8b8b8", "#4d4d4d", "#8c8c8c"]}}
          }
        },
        {
          "transform": [{"filter": "datum.dose == 'Ctrl'"}],
          "mark": {"type": "bar", "stroke": "black", "strokeWidth": 1.5,
            "fill": {"gradient": "linear", "x1": 0, "y1": 0, "x2": 0.85, "y2": 1.115, "stops": [
              {"offset": 0, "color": "#fff"}, {"offset": 0.0385, "color": "#fff"}, {"offset": 0.0385, "color": "#111"}, {"offset": 0.0769, "color": "#111"},
              {"offset": 0.0769, "color": "#fff"}, {"offset": 0.1154, "color": "#fff"}, {"offset": 0.1154, "color": "#111"}, {"offset": 0.1538, "color": "#111"},
              {"offset": 0.1538, "color": "#fff"}, {"offset": 0.1923, "color": "#fff"}, {"offset": 0.1923, "color": "#111"}, {"offset": 0.2308, "color": "#111"},
              {"offset": 0.2308, "color": "#fff"}, {"offset": 0.2692, "color": "#fff"}, {"offset": 0.2692, "color": "#111"}, {"offset": 0.3077, "color": "#111"},
              {"offset": 0.3077, "color": "#fff"}, {"offset": 0.3462, "color": "#fff"}, {"offset": 0.3462, "color": "#111"}, {"offset": 0.3846, "color": "#111"},
              {"offset": 0.3846, "color": "#fff"}, {"offset": 0.4231, "color": "#fff"}, {"offset": 0.4231, "color": "#111"}, {"offset": 0.4615, "color": "#111"},
              {"offset": 0.4615, "color": "#fff"}, {"offset": 0.5, "color": "#fff"}, {"offset": 0.5, "color": "#111"}, {"offset": 0.5385, "color": "#111"},
              {"offset": 0.5385, "color": "#fff"}, {"offset": 0.5769, "color": "#fff"}, {"offset": 0.5769, "color": "#111"}, {"offset": 0.6154, "color": "#111"},
              {"offset": 0.6154, "color": "#fff"}, {"offset": 0.6538, "color": "#fff"}, {"offset": 0.6538, "color": "#111"}, {"offset": 0.6923, "color": "#111"},
              {"offset": 0.6923, "color": "#fff"}, {"offset": 0.7308, "color": "#fff"}, {"offset": 0.7308, "color": "#111"}, {"offset": 0.7692, "color": "#111"},
              {"offset": 0.7692, "color": "#fff"}, {"offset": 0.8077, "color": "#fff"}, {"offset": 0.8077, "color": "#111"}, {"offset": 0.8462, "color": "#111"},
              {"offset": 0.8462, "color": "#fff"}, {"offset": 0.8846, "color": "#fff"}, {"offset": 0.8846, "color": "#111"}, {"offset": 0.9231, "color": "#111"},
              {"offset": 0.9231, "color": "#fff"}, {"offset": 0.9615, "color": "#fff"}, {"offset": 0.9615, "color": "#111"}, {"offset": 1, "color": "#111"}]}},
          "encoding": {
            "x": {"field": "group", "type": "nominal", "sort": null, "axis": null},
            "y": {"field": "mean", "type": "quantitative"}
          }
        },
        {
          "transform": [{"filter": "datum.dose == 'Lid'"}],
          "mark": {"type": "bar", "stroke": "black", "strokeWidth": 1.5,
            "fill": {"gradient": "linear", "x1": 0, "y1": 0, "x2": 0, "y2": 1, "stops": [
              {"offset": 0, "color": "white"}, {"offset": 0.06, "color": "white"}, {"offset": 0.06, "color": "#444"}, {"offset": 0.0769, "color": "#444"},
              {"offset": 0.0769, "color": "white"}, {"offset": 0.1369, "color": "white"}, {"offset": 0.1369, "color": "#444"}, {"offset": 0.1538, "color": "#444"},
              {"offset": 0.1538, "color": "white"}, {"offset": 0.2138, "color": "white"}, {"offset": 0.2138, "color": "#444"}, {"offset": 0.2308, "color": "#444"},
              {"offset": 0.2308, "color": "white"}, {"offset": 0.2908, "color": "white"}, {"offset": 0.2908, "color": "#444"}, {"offset": 0.3077, "color": "#444"},
              {"offset": 0.3077, "color": "white"}, {"offset": 0.3677, "color": "white"}, {"offset": 0.3677, "color": "#444"}, {"offset": 0.3846, "color": "#444"},
              {"offset": 0.3846, "color": "white"}, {"offset": 0.4446, "color": "white"}, {"offset": 0.4446, "color": "#444"}, {"offset": 0.4615, "color": "#444"},
              {"offset": 0.4615, "color": "white"}, {"offset": 0.5215, "color": "white"}, {"offset": 0.5215, "color": "#444"}, {"offset": 0.5385, "color": "#444"},
              {"offset": 0.5385, "color": "white"}, {"offset": 0.5985, "color": "white"}, {"offset": 0.5985, "color": "#444"}, {"offset": 0.6154, "color": "#444"},
              {"offset": 0.6154, "color": "white"}, {"offset": 0.6754, "color": "white"}, {"offset": 0.6754, "color": "#444"}, {"offset": 0.6923, "color": "#444"},
              {"offset": 0.6923, "color": "white"}, {"offset": 0.7523, "color": "white"}, {"offset": 0.7523, "color": "#444"}, {"offset": 0.7692, "color": "#444"},
              {"offset": 0.7692, "color": "white"}, {"offset": 0.8292, "color": "white"}, {"offset": 0.8292, "color": "#444"}, {"offset": 0.8462, "color": "#444"},
              {"offset": 0.8462, "color": "white"}, {"offset": 0.9062, "color": "white"}, {"offset": 0.9062, "color": "#444"}, {"offset": 0.9231, "color": "#444"},
              {"offset": 0.9231, "color": "white"}, {"offset": 1, "color": "white"}]}},
          "encoding": {
            "x": {"field": "group", "type": "nominal", "sort": null, "axis": null},
            "y": {"field": "mean", "type": "quantitative"}
          }
        },
        {
          "transform": [{"filter": "datum.dose == 'Pro'"}],
          "mark": {"type": "bar", "stroke": "black", "strokeWidth": 1.5,
            "fill": {"gradient": "linear", "x1": 0, "y1": 1, "x2": 0.554, "y2": -0.205, "stops": [
              {"offset": 0, "color": "white"}, {"offset": 0.0455, "color": "white"}, {"offset": 0.0455, "color": "black"}, {"offset": 0.0909, "color": "black"},
              {"offset": 0.0909, "color": "white"}, {"offset": 0.1364, "color": "white"}, {"offset": 0.1364, "color": "black"}, {"offset": 0.1818, "color": "black"},
              {"offset": 0.1818, "color": "white"}, {"offset": 0.2273, "color": "white"}, {"offset": 0.2273, "color": "black"}, {"offset": 0.2727, "color": "black"},
              {"offset": 0.2727, "color": "white"}, {"offset": 0.3182, "color": "white"}, {"offset": 0.3182, "color": "black"}, {"offset": 0.3636, "color": "black"},
              {"offset": 0.3636, "color": "white"}, {"offset": 0.4091, "color": "white"}, {"offset": 0.4091, "color": "black"}, {"offset": 0.4545, "color": "black"},
              {"offset": 0.4545, "color": "white"}, {"offset": 0.5, "color": "white"}, {"offset": 0.5, "color": "black"}, {"offset": 0.5455, "color": "black"},
              {"offset": 0.5455, "color": "white"}, {"offset": 0.5909, "color": "white"}, {"offset": 0.5909, "color": "black"}, {"offset": 0.6364, "color": "black"},
              {"offset": 0.6364, "color": "white"}, {"offset": 0.6818, "color": "white"}, {"offset": 0.6818, "color": "black"}, {"offset": 0.7273, "color": "black"},
              {"offset": 0.7273, "color": "white"}, {"offset": 0.7727, "color": "white"}, {"offset": 0.7727, "color": "black"}, {"offset": 0.8182, "color": "black"},
              {"offset": 0.8182, "color": "white"}, {"offset": 0.8636, "color": "white"}, {"offset": 0.8636, "color": "black"}, {"offset": 0.9091, "color": "black"},
              {"offset": 0.9091, "color": "white"}, {"offset": 0.9545, "color": "white"}, {"offset": 0.9545, "color": "black"}, {"offset": 1, "color": "black"}]}},
          "encoding": {
            "x": {"field": "group", "type": "nominal", "sort": null, "axis": null},
            "y": {"field": "mean", "type": "quantitative"}
          }
        },
        {
          "transform": [{"filter": "datum.dose == 'D1'"}],
          "mark": {"type": "bar", "stroke": "black", "strokeWidth": 1.5,
            "fill": {"gradient": "linear", "x1": 0, "y1": 0, "x2": 0, "y2": 1, "stops": [
              {"offset": 0, "color": "#eee"}, {"offset": 0.0278, "color": "#eee"}, {"offset": 0.0278, "color": "#555"}, {"offset": 0.0556, "color": "#555"},
              {"offset": 0.0556, "color": "#eee"}, {"offset": 0.0833, "color": "#eee"}, {"offset": 0.0833, "color": "#555"}, {"offset": 0.1111, "color": "#555"},
              {"offset": 0.1111, "color": "#eee"}, {"offset": 0.1389, "color": "#eee"}, {"offset": 0.1389, "color": "#555"}, {"offset": 0.1667, "color": "#555"},
              {"offset": 0.1667, "color": "#eee"}, {"offset": 0.1944, "color": "#eee"}, {"offset": 0.1944, "color": "#555"}, {"offset": 0.2222, "color": "#555"},
              {"offset": 0.2222, "color": "#eee"}, {"offset": 0.25, "color": "#eee"}, {"offset": 0.25, "color": "#555"}, {"offset": 0.2778, "color": "#555"},
              {"offset": 0.2778, "color": "#eee"}, {"offset": 0.3056, "color": "#eee"}, {"offset": 0.3056, "color": "#555"}, {"offset": 0.3333, "color": "#555"},
              {"offset": 0.3333, "color": "#eee"}, {"offset": 0.3611, "color": "#eee"}, {"offset": 0.3611, "color": "#555"}, {"offset": 0.3889, "color": "#555"},
              {"offset": 0.3889, "color": "#eee"}, {"offset": 0.4167, "color": "#eee"}, {"offset": 0.4167, "color": "#555"}, {"offset": 0.4444, "color": "#555"},
              {"offset": 0.4444, "color": "#eee"}, {"offset": 0.4722, "color": "#eee"}, {"offset": 0.4722, "color": "#555"}, {"offset": 0.5, "color": "#555"},
              {"offset": 0.5, "color": "#eee"}, {"offset": 0.5278, "color": "#eee"}, {"offset": 0.5278, "color": "#555"}, {"offset": 0.5556, "color": "#555"},
              {"offset": 0.5556, "color": "#eee"}, {"offset": 0.5833, "color": "#eee"}, {"offset": 0.5833, "color": "#555"}, {"offset": 0.6111, "color": "#555"},
              {"offset": 0.6111, "color": "#eee"}, {"offset": 0.6389, "color": "#eee"}, {"offset": 0.6389, "color": "#555"}, {"offset": 0.6667, "color": "#555"},
              {"offset": 0.6667, "color": "#eee"}, {"offset": 0.6944, "color": "#eee"}, {"offset": 0.6944, "color": "#555"}, {"offset": 0.7222, "color": "#555"},
              {"offset": 0.7222, "color": "#eee"}, {"offset": 0.75, "color": "#eee"}, {"offset": 0.75, "color": "#555"}, {"offset": 0.7778, "color": "#555"},
              {"offset": 0.7778, "color": "#eee"}, {"offset": 0.8056, "color": "#eee"}, {"offset": 0.8056, "color": "#555"}, {"offset": 0.8333, "color": "#555"},
              {"offset": 0.8333, "color": "#eee"}, {"offset": 0.8611, "color": "#eee"}, {"offset": 0.8611, "color": "#555"}, {"offset": 0.8889, "color": "#555"},
              {"offset": 0.8889, "color": "#eee"}, {"offset": 0.9167, "color": "#eee"}, {"offset": 0.9167, "color": "#555"}, {"offset": 0.9444, "color": "#555"},
              {"offset": 0.9444, "color": "#eee"}, {"offset": 0.9722, "color": "#eee"}, {"offset": 0.9722, "color": "#555"}, {"offset": 1, "color": "#555"}]}},
          "encoding": {
            "x": {"field": "group", "type": "nominal", "sort": null, "axis": null},
            "y": {"field": "mean", "type": "quantitative"}
          }
        },
        {
          "transform": [{"filter": "datum.dose == 'D2'"}],
          "mark": {"type": "bar", "stroke": "black", "strokeWidth": 1.5,
            "fill": {"gradient": "linear", "x1": 0, "y1": 0, "x2": 0.276, "y2": 1.171, "stops": [
              {"offset": 0, "color": "white"}, {"offset": 0.028, "color": "white"}, {"offset": 0.028, "color": "#333"}, {"offset": 0.04, "color": "#333"},
              {"offset": 0.04, "color": "white"}, {"offset": 0.068, "color": "white"}, {"offset": 0.068, "color": "#333"}, {"offset": 0.08, "color": "#333"},
              {"offset": 0.08, "color": "white"}, {"offset": 0.108, "color": "white"}, {"offset": 0.108, "color": "#333"}, {"offset": 0.12, "color": "#333"},
              {"offset": 0.12, "color": "white"}, {"offset": 0.148, "color": "white"}, {"offset": 0.148, "color": "#333"}, {"offset": 0.16, "color": "#333"},
              {"offset": 0.16, "color": "white"}, {"offset": 0.188, "color": "white"}, {"offset": 0.188, "color": "#333"}, {"offset": 0.2, "color": "#333"},
              {"offset": 0.2, "color": "white"}, {"offset": 0.228, "color": "white"}, {"offset": 0.228, "color": "#333"}, {"offset": 0.24, "color": "#333"},
              {"offset": 0.24, "color": "white"}, {"offset": 0.268, "color": "white"}, {"offset": 0.268, "color": "#333"}, {"offset": 0.28, "color": "#333"},
              {"offset": 0.28, "color": "white"}, {"offset": 0.308, "color": "white"}, {"offset": 0.308, "color": "#333"}, {"offset": 0.32, "color": "#333"},
              {"offset": 0.32, "color": "white"}, {"offset": 0.348, "color": "white"}, {"offset": 0.348, "color": "#333"}, {"offset": 0.36, "color": "#333"},
              {"offset": 0.36, "color": "white"}, {"offset": 0.388, "color": "white"}, {"offset": 0.388, "color": "#333"}, {"offset": 0.4, "color": "#333"},
              {"offset": 0.4, "color": "white"}, {"offset": 0.428, "color": "white"}, {"offset": 0.428, "color": "#333"}, {"offset": 0.44, "color": "#333"},
              {"offset": 0.44, "color": "white"}, {"offset": 0.468, "color": "white"}, {"offset": 0.468, "color": "#333"}, {"offset": 0.48, "color": "#333"},
              {"offset": 0.48, "color": "white"}, {"offset": 0.508, "color": "white"}, {"offset": 0.508, "color": "#333"}, {"offset": 0.52, "color": "#333"},
              {"offset": 0.52, "color": "white"}, {"offset": 0.548, "color": "white"}, {"offset": 0.548, "color": "#333"}, {"offset": 0.56, "color": "#333"},
              {"offset": 0.56, "color": "white"}, {"offset": 0.588, "color": "white"}, {"offset": 0.588, "color": "#333"}, {"offset": 0.6, "color": "#333"},
              {"offset": 0.6, "color": "white"}, {"offset": 0.628, "color": "white"}, {"offset": 0.628, "color": "#333"}, {"offset": 0.64, "color": "#333"},
              {"offset": 0.64, "color": "white"}, {"offset": 0.668, "color": "white"}, {"offset": 0.668, "color": "#333"}, {"offset": 0.68, "color": "#333"},
              {"offset": 0.68, "color": "white"}, {"offset": 0.708, "color": "white"}, {"offset": 0.708, "color": "#333"}, {"offset": 0.72, "color": "#333"},
              {"offset": 0.72, "color": "white"}, {"offset": 0.748, "color": "white"}, {"offset": 0.748, "color": "#333"}, {"offset": 0.76, "color": "#333"},
              {"offset": 0.76, "color": "white"}, {"offset": 0.788, "color": "white"}, {"offset": 0.788, "color": "#333"}, {"offset": 0.8, "color": "#333"},
              {"offset": 0.8, "color": "white"}, {"offset": 0.828, "color": "white"}, {"offset": 0.828, "color": "#333"}, {"offset": 0.84, "color": "#333"},
              {"offset": 0.84, "color": "white"}, {"offset": 0.868, "color": "white"}, {"offset": 0.868, "color": "#333"}, {"offset": 0.88, "color": "#333"},
              {"offset": 0.88, "color": "white"}, {"offset": 0.908, "color": "white"}, {"offset": 0.908, "color": "#333"}, {"offset": 0.92, "color": "#333"},
              {"offset": 0.92, "color": "white"}, {"offset": 0.948, "color": "white"}, {"offset": 0.948, "color": "#333"}, {"offset": 0.96, "color": "#333"},
              {"offset": 0.96, "color": "white"}, {"offset": 0.988, "color": "white"}, {"offset": 0.988, "color": "#333"}, {"offset": 1, "color": "#333"}]}},
          "encoding": {
            "x": {"field": "group", "type": "nominal", "sort": null, "axis": null},
            "y": {"field": "mean", "type": "quantitative"}
          }
        },
        {
          "transform": [{"filter": "datum.dose == 'D3'"}],
          "mark": {"type": "bar", "stroke": "black", "strokeWidth": 1.5,
            "fill": {"gradient": "linear", "x1": 0, "y1": 0, "x2": 1, "y2": 0, "stops": [
              {"offset": 0, "color": "#fff"}, {"offset": 0.1667, "color": "#fff"}, {"offset": 0.1667, "color": "#000"}, {"offset": 0.3333, "color": "#000"},
              {"offset": 0.3333, "color": "#fff"}, {"offset": 0.5, "color": "#fff"}, {"offset": 0.5, "color": "#000"}, {"offset": 0.6667, "color": "#000"},
              {"offset": 0.6667, "color": "#fff"}, {"offset": 0.8333, "color": "#fff"}, {"offset": 0.8333, "color": "#000"}, {"offset": 1, "color": "#000"}]}},
          "encoding": {
            "x": {"field": "group", "type": "nominal", "sort": null, "axis": null},
            "y": {"field": "mean", "type": "quantitative"}
          }
        },
        {
          "transform": [{"filter": "datum.dose == 'D3'"}],
          "mark": {"type": "bar", "strokeWidth": 0, "blend": "difference",
            "fill": {"gradient": "linear", "x1": 0, "y1": 0, "x2": 0, "y2": 1, "stops": [
              {"offset": 0, "color": "#fff"}, {"offset": 0.0333, "color": "#fff"}, {"offset": 0.0333, "color": "rgba(0,0,0,0)"}, {"offset": 0.0667, "color": "rgba(0,0,0,0)"},
              {"offset": 0.0667, "color": "#fff"}, {"offset": 0.1, "color": "#fff"}, {"offset": 0.1, "color": "rgba(0,0,0,0)"}, {"offset": 0.1333, "color": "rgba(0,0,0,0)"},
              {"offset": 0.1333, "color": "#fff"}, {"offset": 0.1667, "color": "#fff"}, {"offset": 0.1667, "color": "rgba(0,0,0,0)"}, {"offset": 0.2, "color": "rgba(0,0,0,0)"},
              {"offset": 0.2, "color": "#fff"}, {"offset": 0.2333, "color": "#fff"}, {"offset": 0.2333, "color": "rgba(0,0,0,0)"}, {"offset": 0.2667, "color": "rgba(0,0,0,0)"},
              {"offset": 0.2667, "color": "#fff"}, {"offset": 0.3, "color": "#fff"}, {"offset": 0.3, "color": "rgba(0,0,0,0)"}, {"offset": 0.3333, "color": "rgba(0,0,0,0)"},
              {"offset": 0.3333, "color": "#fff"}, {"offset": 0.3667, "color": "#fff"}, {"offset": 0.3667, "color": "rgba(0,0,0,0)"}, {"offset": 0.4, "color": "rgba(0,0,0,0)"},
              {"offset": 0.4, "color": "#fff"}, {"offset": 0.4333, "color": "#fff"}, {"offset": 0.4333, "color": "rgba(0,0,0,0)"}, {"offset": 0.4667, "color": "rgba(0,0,0,0)"},
              {"offset": 0.4667, "color": "#fff"}, {"offset": 0.5, "color": "#fff"}, {"offset": 0.5, "color": "rgba(0,0,0,0)"}, {"offset": 0.5333, "color": "rgba(0,0,0,0)"},
              {"offset": 0.5333, "color": "#fff"}, {"offset": 0.5667, "color": "#fff"}, {"offset": 0.5667, "color": "rgba(0,0,0,0)"}, {"offset": 0.6, "color": "rgba(0,0,0,0)"},
              {"offset": 0.6, "color": "#fff"}, {"offset": 0.6333, "color": "#fff"}, {"offset": 0.6333, "color": "rgba(0,0,0,0)"}, {"offset": 0.6667, "color": "rgba(0,0,0,0)"},
              {"offset": 0.6667, "color": "#fff"}, {"offset": 0.7, "color": "#fff"}, {"offset": 0.7, "color": "rgba(0,0,0,0)"}, {"offset": 0.7333, "color": "rgba(0,0,0,0)"},
              {"offset": 0.7333, "color": "#fff"}, {"offset": 0.7667, "color": "#fff"}, {"offset": 0.7667, "color": "rgba(0,0,0,0)"}, {"offset": 0.8, "color": "rgba(0,0,0,0)"},
              {"offset": 0.8, "color": "#fff"}, {"offset": 0.8333, "color": "#fff"}, {"offset": 0.8333, "color": "rgba(0,0,0,0)"}, {"offset": 0.8667, "color": "rgba(0,0,0,0)"},
              {"offset": 0.8667, "color": "#fff"}, {"offset": 0.9, "color": "#fff"}, {"offset": 0.9, "color": "rgba(0,0,0,0)"}, {"offset": 0.9333, "color": "rgba(0,0,0,0)"},
              {"offset": 0.9333, "color": "#fff"}, {"offset": 0.9667, "color": "#fff"}, {"offset": 0.9667, "color": "rgba(0,0,0,0)"}, {"offset": 1, "color": "rgba(0,0,0,0)"}]}},
          "encoding": {
            "x": {"field": "group", "type": "nominal", "sort": null, "axis": null},
            "y": {"field": "mean", "type": "quantitative"}
          }
        },
        {
          "transform": [{"filter": "datum.dose == 'D3'"}],
          "mark": {"type": "bar", "fill": "transparent", "stroke": "black", "strokeWidth": 1.5},
          "encoding": {
            "x": {"field": "group", "type": "nominal", "sort": null, "axis": null},
            "y": {"field": "mean", "type": "quantitative"}
          }
        },
        {
          "mark": {"type": "rule", "strokeWidth": 1.8, "color": "black"},
          "encoding": {
            "x": {"field": "group", "type": "nominal", "sort": null,
              "axis": {"orient": "bottom", "offset": 23, "labels": false, "ticks": false, "domain": true, "domainDash": [0, 121, 127, 1000], "title": "compound 4", "titleX": 181, "titleY": 15, "titleAlign": "center", "titleBaseline": "middle", "titleFontWeight": "normal", "titleFontSize": 13}},
            "y": {"field": "mean", "type": "quantitative"},
            "y2": {"field": "upper"}
          }
        },
        {
          "mark": {"type": "tick", "color": "black", "thickness": 2, "size": 11},
          "encoding": {
            "x": {"field": "group", "type": "nominal", "sort": null, "axis": null},
            "y": {"field": "upper", "type": "quantitative"}
          }
        },
        {
          "transform": [{"filter": "datum.sig == '*'"}],
          "mark": {"type": "text", "font": "Liberation Sans", "fontSize": 18, "baseline": "alphabetic", "dy": 6, "fill": "black"},
          "encoding": {
            "x": {"field": "group", "type": "nominal", "sort": null, "axis": null},
            "y": {"field": "upper", "type": "quantitative"},
            "text": {"field": "sig"}
          }
        },
        {
          "transform": [{"filter": "datum.sig == '*#'"}],
          "mark": {"type": "text", "font": "Liberation Sans", "fontSize": 15, "baseline": "alphabetic", "dy": -2, "fill": "black"},
          "encoding": {
            "x": {"field": "group", "type": "nominal", "sort": null, "axis": null},
            "y": {"field": "upper", "type": "quantitative"},
            "text": {"field": "sig"}
          }
        }
      ]
    }
  ]
}
